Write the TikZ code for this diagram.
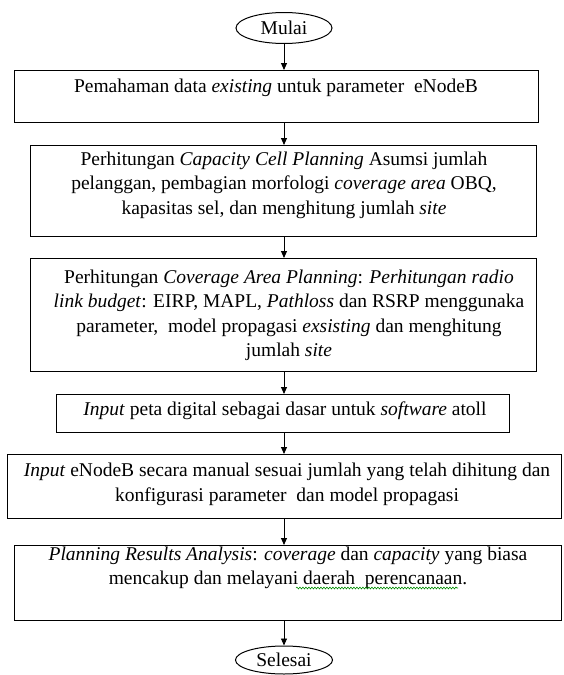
\documentclass[tikz,border=0pt]{standalone}
\usepackage{fontspec}
\setmainfont{Liberation Serif}
\usetikzlibrary{arrows.meta,shapes.geometric,decorations.pathmorphing}
\tikzset{
  boxnode/.style={draw, line width=1.1pt, inner sep=0pt, anchor=north west},
  termnode/.style={draw, ellipse, line width=1pt, inner sep=0pt, font=\fontsize{19.5}{24.5}\selectfont},
  txt/.style={align=center, inner sep=0pt, font=\fontsize{19.5}{24.5}\selectfont},
  arr/.style={-{Triangle[length=7pt,width=6pt]}, line width=0.9pt},
  squiggle/.style={draw=green!55!black, line width=0.6pt, decorate, decoration={snake, amplitude=0.9pt, segment length=3pt}}
}
\begin{document}
\begin{tikzpicture}[x=1pt,y=-1pt]
\useasboundingbox (0,0) rectangle (563,675);
% terminals
\node[termnode, minimum width=96pt, minimum height=31pt] (m) at (284,28) {Mulai};
\node[termnode, minimum width=97pt, minimum height=28pt] (s) at (284,660) {Selesai};
% boxes
\node[boxnode, minimum width=524pt, minimum height=52pt] (b1) at (14,70) {};
\node[boxnode, minimum width=506pt, minimum height=91pt] (b2) at (30,145) {};
\node[boxnode, minimum width=506pt, minimum height=113pt] (b3) at (30,258) {};
\node[boxnode, minimum width=453pt, minimum height=38pt] (b4) at (56,394) {};
\node[boxnode, minimum width=554pt, minimum height=64pt] (b5) at (7,454) {};
\node[boxnode, minimum width=547pt, minimum height=75pt] (b6) at (14,545) {};
% texts
\node[txt] (t1) at (276,88) {Pemahaman data \textit{existing} untuk parameter~ eNodeB};
\node[txt] (t2) at (284,185) {Perhitungan \textit{Capacity Cell Planning} Asumsi jumlah\\
pelanggan, pembagian morfologi \textit{coverage area} OBQ,\\
kapasitas sel, dan menghitung jumlah \textit{site}};
\node[txt] (t3) at (289,315.5) {Perhitungan \textit{Coverage Area Planning}: \textit{Perhitungan radio}\\
\textit{link budget}: EIRP, MAPL, \textit{Pathloss} dan RSRP menggunaka\\
parameter,~ model propagasi \textit{exsisting} dan menghitung\\
jumlah \textit{site}};
\node[txt] (t4) at (285,411) {\textit{Input} peta digital sebagai dasar untuk \textit{software} atoll};
\node[txt] (t5) at (287,484.5) {\textit{Input} eNodeB secara manual sesuai jumlah yang telah dihitung dan\\
konfigurasi parameter~ dan model propagasi};
\node[txt] (t6) at (288,568) {\textit{Planning Results Analysis}: \textit{coverage} dan \textit{capacity} yang biasa\\
mencakup dan melayani daerah~ perencanaan.};
\draw[squiggle] (296,588) -- (458,588);
% connectors
\draw[arr] (m.south) -- (m.south |- b1.north);
\draw[arr] (b1.south -| m) -- (b2.north -| m);
\draw[arr] (b2.south -| m) -- (b3.north -| m);
\draw[arr] (b3.south -| m) -- (b4.north -| m);
\draw[arr] (b4.south -| m) -- (b5.north -| m);
\draw[arr] (b5.south -| m) -- (b6.north -| m);
\draw[arr] (b6.south -| m) -- (s.north -| m);
\end{tikzpicture}
\end{document}
